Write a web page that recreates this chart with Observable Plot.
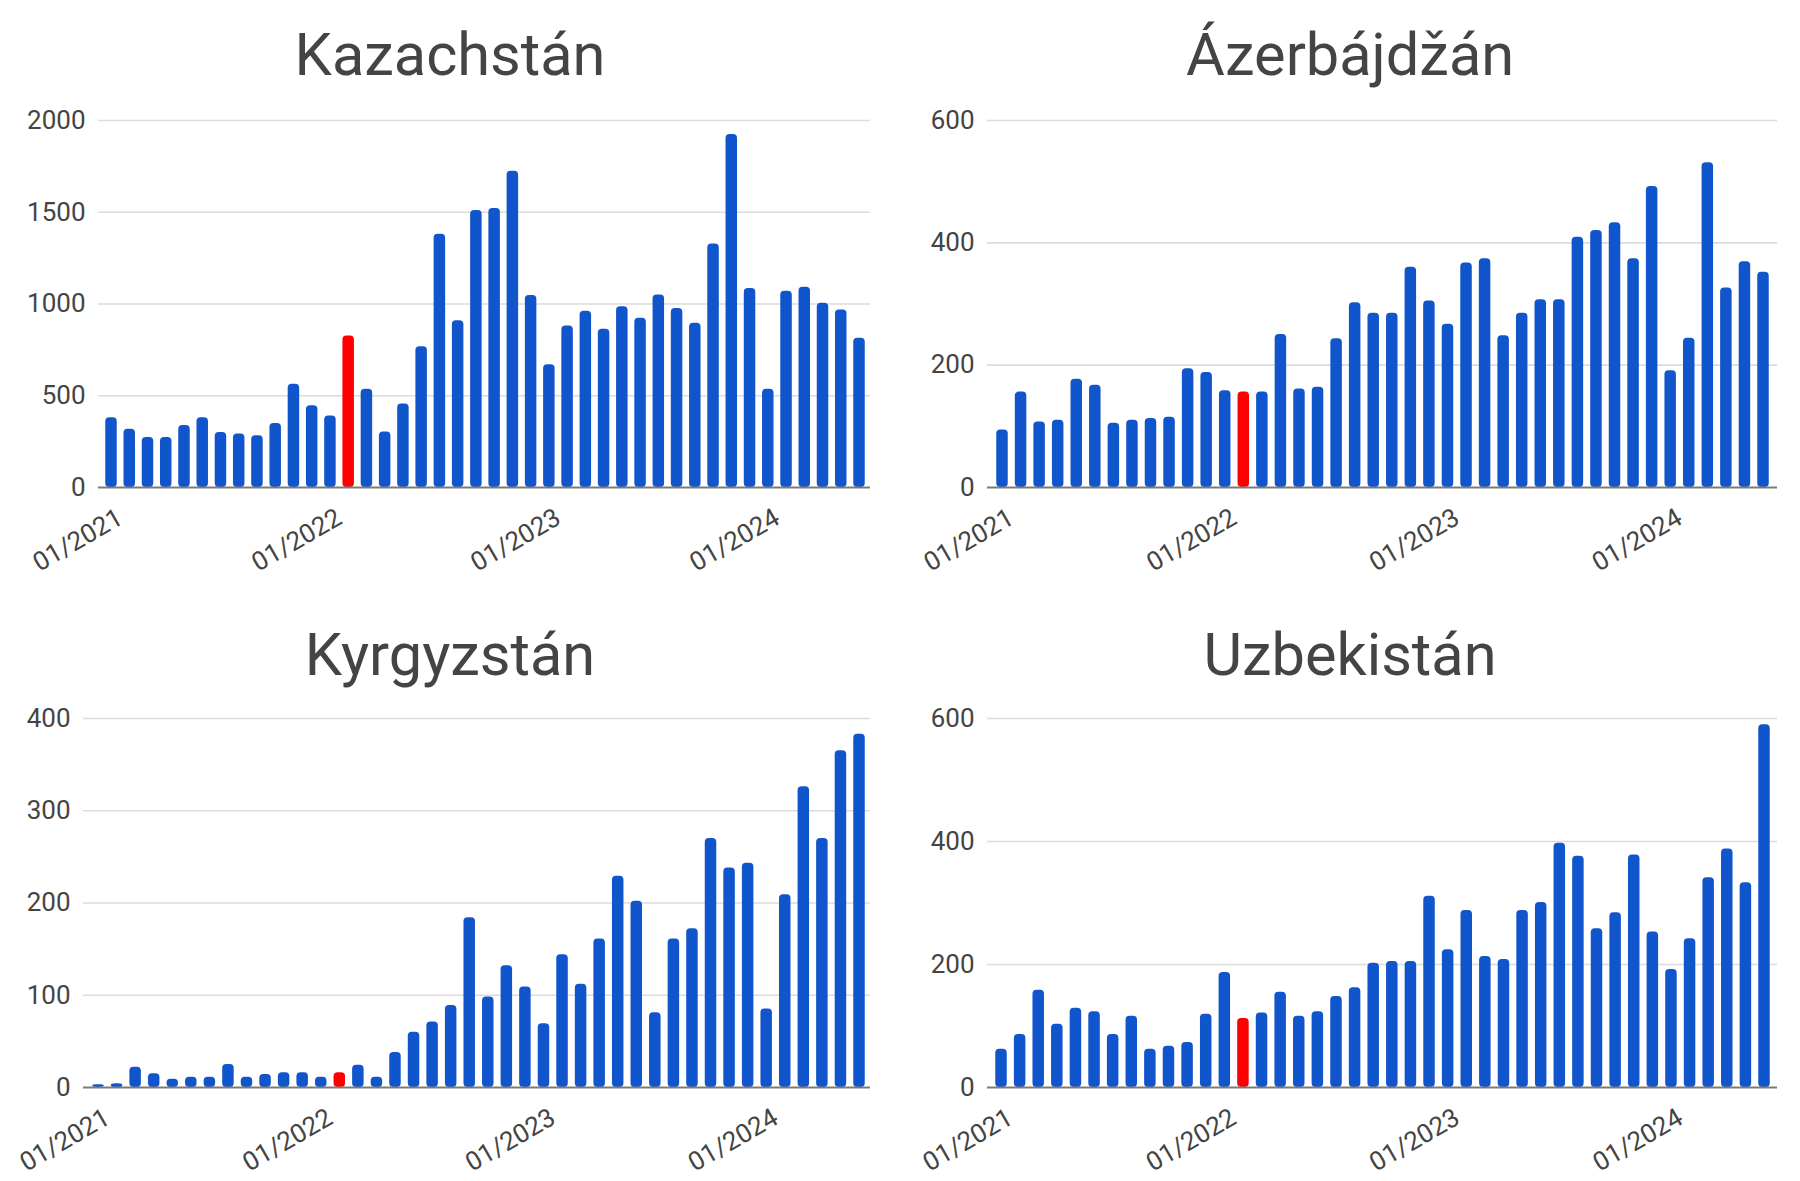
<!DOCTYPE html>
<html>
<head>
<meta charset="utf-8">
<script src="https://cdn.jsdelivr.net/npm/d3@7"></script>
<script src="https://cdn.jsdelivr.net/npm/@observablehq/plot@0.6"></script>
<style>
  body { margin: 0; background: #fff; font-family: Roboto, sans-serif; }
  #grid { position: relative; width: 1800px; height: 1181px; overflow: hidden; }
  .panel { position: absolute; width: 900px; height: 600px; }
  .title { height: 100px; line-height: 110px; text-align: center; font-size: 59.5px; color: #444; white-space: nowrap; }
  svg { display: block; }
</style>
</head>
<body>
<div id="grid"></div>
<script>
const months = [
  "01/2021","02/2021","03/2021","04/2021","05/2021","06/2021","07/2021","08/2021","09/2021","10/2021","11/2021","12/2021",
  "01/2022","02/2022","03/2022","04/2022","05/2022","06/2022","07/2022","08/2022","09/2022","10/2022","11/2022","12/2022",
  "01/2023","02/2023","03/2023","04/2023","05/2023","06/2023","07/2023","08/2023","09/2023","10/2023","11/2023","12/2023",
  "01/2024","02/2024","03/2024","04/2024","05/2024","06/2024"
];
const highlightMonth = "02/2022";
const xTickLabels = ["01/2021", "01/2022", "01/2023", "01/2024"];

const kazachstan = [380, 318, 273, 273, 338, 380, 300, 291, 282, 349, 562, 445,
  389, 825, 536, 302, 455, 767, 1380, 909, 1509, 1520, 1724, 1047,
  669, 880, 960, 862, 985, 922, 1049, 976, 895, 1327, 1924, 1084,
  535, 1069, 1091, 1004, 967, 813];
const azerbajdzan = [94, 156, 107, 110, 177, 167, 105, 110, 113, 115, 194, 188,
  158, 156, 156, 250, 161, 164, 243, 302, 285, 285, 360, 305,
  267, 367, 374, 248, 285, 307, 307, 409, 420, 433, 374, 492,
  191, 244, 531, 326, 369, 352];
const kyrgyzstan = [3, 4, 22, 15, 9, 11, 11, 25, 11, 14, 16, 16,
  11, 16, 24, 11, 38, 60, 71, 89, 184, 98, 132, 109,
  69, 144, 112, 161, 229, 202, 81, 161, 172, 270, 238, 243,
  85, 209, 326, 270, 365, 383];
const uzbekistan = [62, 86, 158, 103, 129, 123, 86, 116, 62, 67, 73, 119,
  187, 112, 121, 155, 116, 123, 148, 162, 202, 205, 205, 311,
  224, 288, 213, 208, 288, 301, 397, 376, 258, 284, 378, 253,
  192, 242, 341, 388, 333, 590];

const titles = ["Kazachstán", "Ázerbájdžán", "Kyrgyzstán", "Uzbekistán"];
const yTicksKz = [0, 500, 1000, 1500, 2000];
const yTicksAz = [0, 200, 400, 600];
const yTicksKg = [0, 100, 200, 300, 400];
const yTicksUz = [0, 200, 400, 600];

const BLUE = "#1155cc";
const RED = "#ff0000";

const panels = [
  {title: titles[0], values: kazachstan, yTicks: yTicksKz, left: 0, top: 0, grid: [98, 870], bars: [111, 859], mt: 20},
  {title: titles[1], values: azerbajdzan, yTicks: yTicksAz, left: 900, top: 0, grid: [87, 877], bars: [102, 863], mt: 20},
  {title: titles[2], values: kyrgyzstan, yTicks: yTicksKg, left: 0, top: 600, grid: [83, 870], bars: [98, 859], mt: 18},
  {title: titles[3], values: uzbekistan, yTicks: yTicksUz, left: 900, top: 600, grid: [87, 877], bars: [101, 864], mt: 18}
];

const grid = document.getElementById("grid");
const W = 900, H = 500, MB = 113, BW = 11.5;

for (const p of panels) {
  const data = months.map((m, i) => ({month: m, value: p.values[i], fill: m === highlightMonth ? RED : BLUE}));
  const step = (p.bars[1] - p.bars[0]) / (months.length - 1);
  const yMax = p.yTicks[p.yTicks.length - 1];
  const chart = Plot.plot({
    width: W,
    height: H,
    marginTop: p.mt,
    marginBottom: MB,
    marginLeft: p.grid[0],
    marginRight: W - p.grid[1],
    style: {fontFamily: "Roboto, sans-serif", fontSize: "26px", color: "#444", background: "white"},
    x: {type: "band", domain: months, range: [p.bars[0] - BW / 2, p.bars[1] + BW / 2], paddingInner: 1 - BW / step, paddingOuter: 0, round: false, label: null},
    y: {domain: [0, yMax], label: null},
    marks: [
      Plot.ruleY(p.yTicks.filter(t => t > 0), {stroke: "#dcdcdc", strokeWidth: 1.6}),
      Plot.barY(data, {x: "month", y: "value", fill: "fill", rx: 4}),
      Plot.ruleY([0], {stroke: "#7a7a7a", strokeWidth: 1.8}),
      Plot.axisY({ticks: p.yTicks, tickFormat: d => String(d), tickSize: 0, tickPadding: 13, fontSize: 26, fill: "#444", label: null}),
      Plot.axisX({ticks: xTickLabels, tickRotate: -30, tickSize: 0, tickPadding: 28, dx: 9, fontSize: 26, fill: "#444", label: null})
    ]
  });
  const div = document.createElement("div");
  div.className = "panel";
  div.style.left = p.left + "px";
  div.style.top = p.top + "px";
  const t = document.createElement("div");
  t.className = "title";
  t.textContent = p.title;
  div.appendChild(t);
  div.appendChild(chart);
  grid.appendChild(div);
}
</script>
</body>
</html>
